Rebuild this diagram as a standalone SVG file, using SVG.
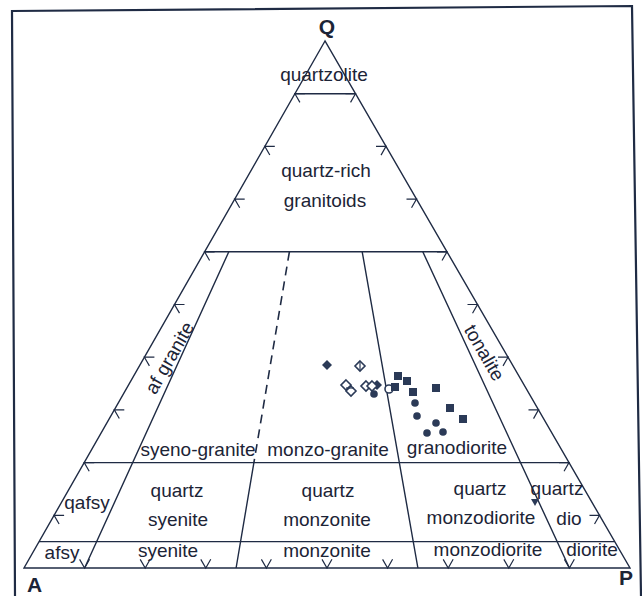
<svg xmlns="http://www.w3.org/2000/svg" width="642" height="596" viewBox="0 0 642 596">
<style>
.ln{fill:none;stroke:#1f2b44;stroke-width:1.4;stroke-linejoin:miter}
.tk{fill:none;stroke:#1f2b44;stroke-width:1.2}
.fr{fill:none;stroke:#1f2b44;stroke-width:2.2}
.t{font-family:"Liberation Sans",Arial,sans-serif;font-size:19px;fill:#1c2436;text-anchor:middle}
.v{font-family:"Liberation Sans",Arial,sans-serif;font-size:21px;font-weight:bold;fill:#1c2436}
.pf{fill:#2b3a57}
.po{fill:#fff;stroke:#2b3a57;stroke-width:1.6}
</style>
<defs>
<path id="dm" d="M0,-5 L5,0 L0,5 L-5,0 Z"/>
<rect id="sq" x="-4" y="-4" width="8" height="8"/>
</defs>
<rect x="0" y="0" width="642" height="596" fill="#fff"/>
<g id="frame">
<path class="fr" d="M15,596 L12,11 L632,6 L641,596"/>
</g>
<g id="connectors">
<path class="ln" d="M325,41 L24,568 L630,568 Z"/>
<path class="ln" d="M294.9,93.7 H355.5 M204.6,251.8 H447 M84.2,462.6 H569 M39.05,541.65 H614.75"/>
<path class="ln" d="M228.8,251.8 L84.6,568 M362.2,251.8 L417.9,568 M422.8,251.8 L569.4,568 M253.9,462.6 L236.1,568"/>
<path class="ln" d="M289.4,251.8 L253.9,462.6" stroke-dasharray="9,6" style="stroke-width:1.6"/>
</g>
<g id="ticks">
<path class="tk" d="M64.1,515.3 L54.1,515.3 L59.1,523.95 M94.2,462.6 L84.2,462.6 L89.2,471.25 M124.3,409.9 L114.3,409.9 L119.3,418.55 M154.4,357.2 L144.4,357.2 L149.4,365.85 M184.5,304.5 L174.5,304.5 L179.5,313.15 M214.6,251.8 L204.6,251.8 L209.6,260.45 M244.7,199.1 L234.7,199.1 L239.7,207.75 M274.8,146.4 L264.8,146.4 L269.8,155.05 M304.9,93.7 L294.9,93.7 L299.9,102.35"/>
<path class="tk" d="M589.5,515.3 L599.5,515.3 L594.54,523.98 M559,462.6 L569,462.6 L564.04,471.28 M528.5,409.9 L538.5,409.9 L533.54,418.58 M498,357.2 L508,357.2 L503.04,365.88 M467.5,304.5 L477.5,304.5 L472.54,313.18 M437,251.8 L447,251.8 L442.04,260.48 M406.5,199.1 L416.5,199.1 L411.54,207.78 M376,146.4 L386,146.4 L381.04,155.08 M345.5,93.7 L355.5,93.7 L350.54,102.38"/>
<path class="tk" d="M79.6,559.35 L84.6,568 L89.56,559.32 M140.2,559.35 L145.2,568 L150.16,559.32 M200.8,559.35 L205.8,568 L210.76,559.32 M261.4,559.35 L266.4,568 L271.36,559.32 M322,559.35 L327,568 L331.96,559.32 M382.6,559.35 L387.6,568 L392.56,559.32 M443.2,559.35 L448.2,568 L453.16,559.32 M503.8,559.35 L508.8,568 L513.76,559.32 M564.4,559.35 L569.4,568 L574.36,559.32"/>
</g>
<g id="vertices">
<text class="v" x="327" y="34" text-anchor="middle">Q</text>
<text class="v" x="27" y="592">A</text>
<text class="v" x="619" y="585">P</text>
</g>
<g id="labels">
<g id="quartzolite"><text class="t" x="324" y="81">quartzolite</text></g>
<g id="quartz-rich"><text class="t" x="326" y="177">quartz-rich</text><text class="t" x="325" y="207">granitoids</text></g>
<g id="af-granite"><text class="t" transform="translate(170,358) rotate(-60.3)" y="6">af granite</text></g>
<g id="tonalite"><text class="t" transform="translate(484,353) rotate(60)" y="6">tonalite</text></g>
<g id="syeno-granite"><text class="t" x="198" y="456">syeno-granite</text></g>
<g id="monzo-granite"><text class="t" x="328" y="456">monzo-granite</text></g>
<g id="granodiorite"><text class="t" x="457" y="454">granodiorite</text></g>
<g id="qafsy"><text class="t" x="87" y="509">qafsy</text></g>
<g id="quartz-syenite"><text class="t" x="177" y="497">quartz</text><text class="t" x="178" y="526">syenite</text></g>
<g id="quartz-monzonite"><text class="t" x="328" y="497">quartz</text><text class="t" x="327" y="526">monzonite</text></g>
<g id="quartz-monzodiorite"><text class="t" x="480" y="495">quartz</text><text class="t" x="481" y="524">monzodiorite</text></g>
<g id="quartz-diorite"><text class="t" x="557" y="495">quartz</text><text class="t" x="569" y="525">dio</text></g>
<g id="afsy"><text class="t" x="62" y="559">afsy</text></g>
<g id="syenite"><text class="t" x="168" y="557">syenite</text></g>
<g id="monzonite"><text class="t" x="327" y="557">monzonite</text></g>
<g id="monzodiorite"><text class="t" x="488" y="556">monzodiorite</text></g>
<g id="diorite"><text class="t" x="592" y="556">diorite</text></g>
</g>
<g id="data">
<use href="#dm" class="pf" x="327" y="365"/>
<use href="#dm" class="po" x="360" y="366"/><path class="tk" d="M360,361 V371" style="stroke:#2b3a57"/>
<use href="#dm" class="po" x="346" y="385"/>
<use href="#dm" class="po" x="351" y="391"/><path class="tk" d="M346,388 L354,388" style="stroke:#2b3a57"/>
<use href="#dm" class="po" x="366" y="386"/>
<use href="#dm" class="pf" x="377" y="385"/>
<use href="#dm" class="po" x="372" y="386"/>
<circle class="pf" cx="374" cy="394" r="3.8"/>
<circle class="po" cx="389" cy="389" r="4"/>
<use href="#sq" class="pf" x="398" y="376"/>
<use href="#sq" class="pf" x="407" y="381"/>
<use href="#sq" class="pf" x="395" y="387"/>
<use href="#sq" class="pf" x="413" y="392"/>
<use href="#sq" class="pf" x="436" y="388"/>
<use href="#sq" class="pf" x="450" y="408"/>
<use href="#sq" class="pf" x="463" y="419"/>
<circle class="pf" cx="415" cy="403" r="3.8"/>
<circle class="pf" cx="417" cy="416" r="3.8"/>
<circle class="pf" cx="436" cy="423" r="3.8"/>
<circle class="pf" cx="427" cy="433" r="3.8"/>
<circle class="pf" cx="443" cy="432" r="3.8"/>
<path class="pf" d="M531,499 L539,499 L535,506 Z"/>
</g>
</svg>
